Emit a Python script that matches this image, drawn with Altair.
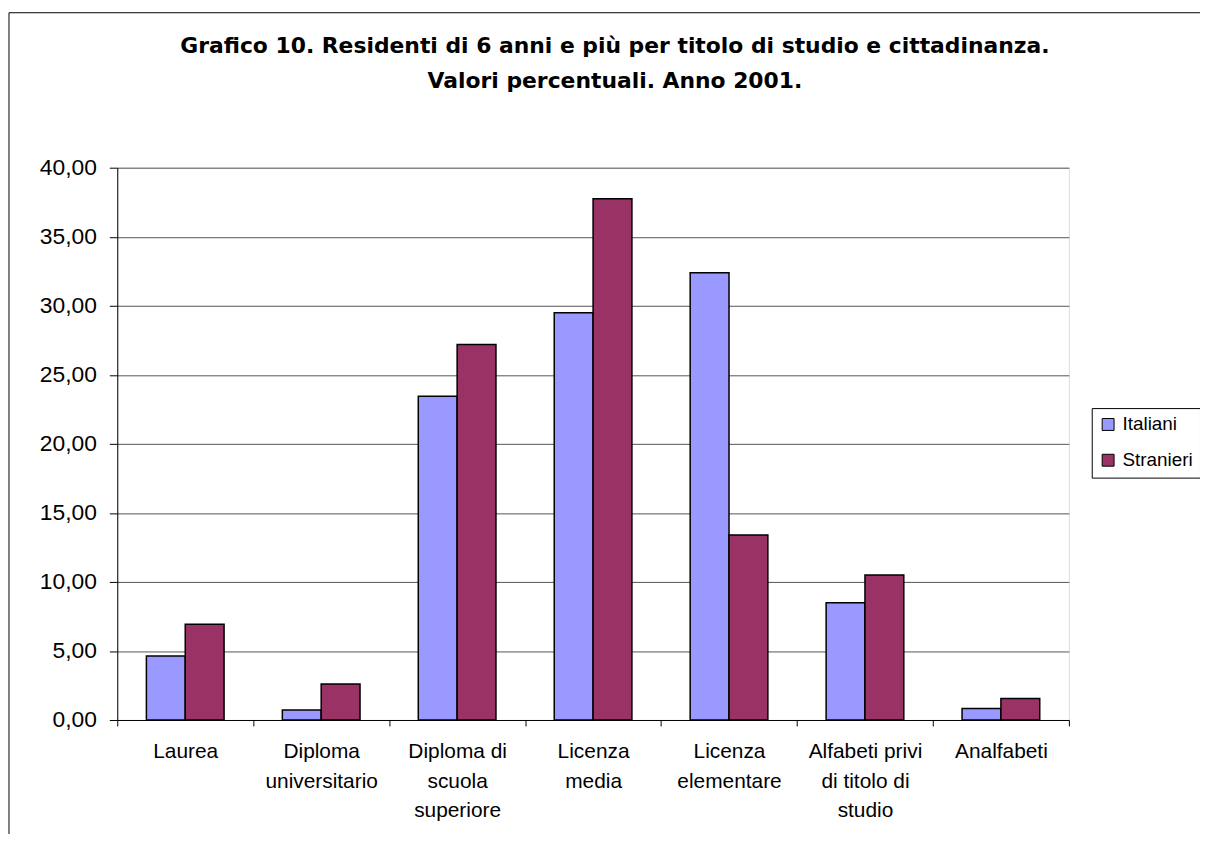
import altair as alt
import pandas as pd

# ---- data ----
categories = [
    "Laurea",
    "Diploma|universitario",
    "Diploma di|scuola|superiore",
    "Licenza|media",
    "Licenza|elementare",
    "Alfabeti privi|di titolo di|studio",
    "Analfabeti",
]
series = ["Italiani", "Stranieri"]
italiani = [4.63, 0.72, 23.45, 29.50, 32.40, 8.50, 0.84]
stranieri = [6.93, 2.60, 27.20, 37.75, 13.40, 10.50, 1.56]
colors = ["#9999FF", "#993366"]
y_ticks = [0, 5, 10, 15, 20, 25, 30, 35, 40]
title_lines = [
    "Grafico 10. Residenti di 6 anni e più per titolo di studio e cittadinanza.",
    "Valori percentuali. Anno 2001.",
]

rows = []
for c, v in zip(categories, italiani):
    rows.append({"cat": c, "serie": "Italiani", "val": v})
for c, v in zip(categories, stranieri):
    rows.append({"cat": c, "serie": "Stranieri", "val": v})
df = pd.DataFrame(rows)

W, H = 958, 556
FONT = "Liberation Sans"

frame = alt.Chart(pd.DataFrame({"k": [0]})).mark_rect(
    fill="transparent", stroke="black", strokeWidth=1
).encode(
    x=alt.value(-109), x2=alt.value(1150), y=alt.value(-156), y2=alt.value(720)
)

bars = alt.Chart(df).mark_bar(stroke="black", strokeWidth=1.5).encode(
    x=alt.X(
        "cat:N",
        sort=categories,
        scale=alt.Scale(paddingInner=0, paddingOuter=0),
        axis=alt.Axis(
            title=None,
            labelExpr="split(datum.label, '|')",
            labelAngle=0,
            tickBand="extent",
            tickSize=6,
            tickColor="black",
            domainColor="black",
            labelFont=FONT,
            labelFontSize=21,
            labelLineHeight=29.5,
            labelPadding=15,
            labelColor="black",
            grid=False,
        ),
    ),
    xOffset=alt.XOffset(
        "serie:N", sort=series, scale=alt.Scale(paddingInner=0, paddingOuter=0.75)
    ),
    y=alt.Y(
        "val:Q",
        scale=alt.Scale(domain=[0, 40], nice=False),
        axis=alt.Axis(
            title=None,
            values=y_ticks,
            labelExpr="replace(format(datum.value, '.2f'), '.', ',')",
            labelFont=FONT,
            labelFontSize=23,
            labelColor="black",
            labelPadding=13,
            tickSize=8,
            tickColor="black",
            domainColor="black",
            gridColor="#555555",
            gridWidth=1,
        ),
    ),
    color=alt.Color(
        "serie:N",
        sort=series,
        scale=alt.Scale(domain=series, range=colors),
        legend=alt.Legend(
            title=None,
            orient="none",
            legendX=981,
            legendY=242,
            fillColor="white",
            strokeColor="black",
            padding=7,
            symbolType="square",
            symbolSize=144,
            symbolStrokeColor="black",
            symbolStrokeWidth=1,
            labelFont=FONT,
            labelFontSize=19,
            labelColor="black",
            labelOffset=5,
            rowPadding=16,
        ),
    ),
)

chart = alt.layer(frame, bars).properties(
    width=W,
    height=H,
    title=alt.TitleParams(
        text=title_lines,
        font="DejaVu Sans",
        fontSize=22,
        fontWeight="bold",
        anchor="middle",
        dx=22,
        offset=-81,
        lineHeight=35,
        color="black",
    ),
    autosize=alt.AutoSizeParams(type="none"),
    padding={"left": 110, "top": 158, "right": 132, "bottom": 112},
).configure_view(
    fill="#C0C0C0", stroke="#808080", strokeWidth=1
).configure(background="white")

chart.save("out.html", embed_options={"renderer": "svg", "actions": False})
